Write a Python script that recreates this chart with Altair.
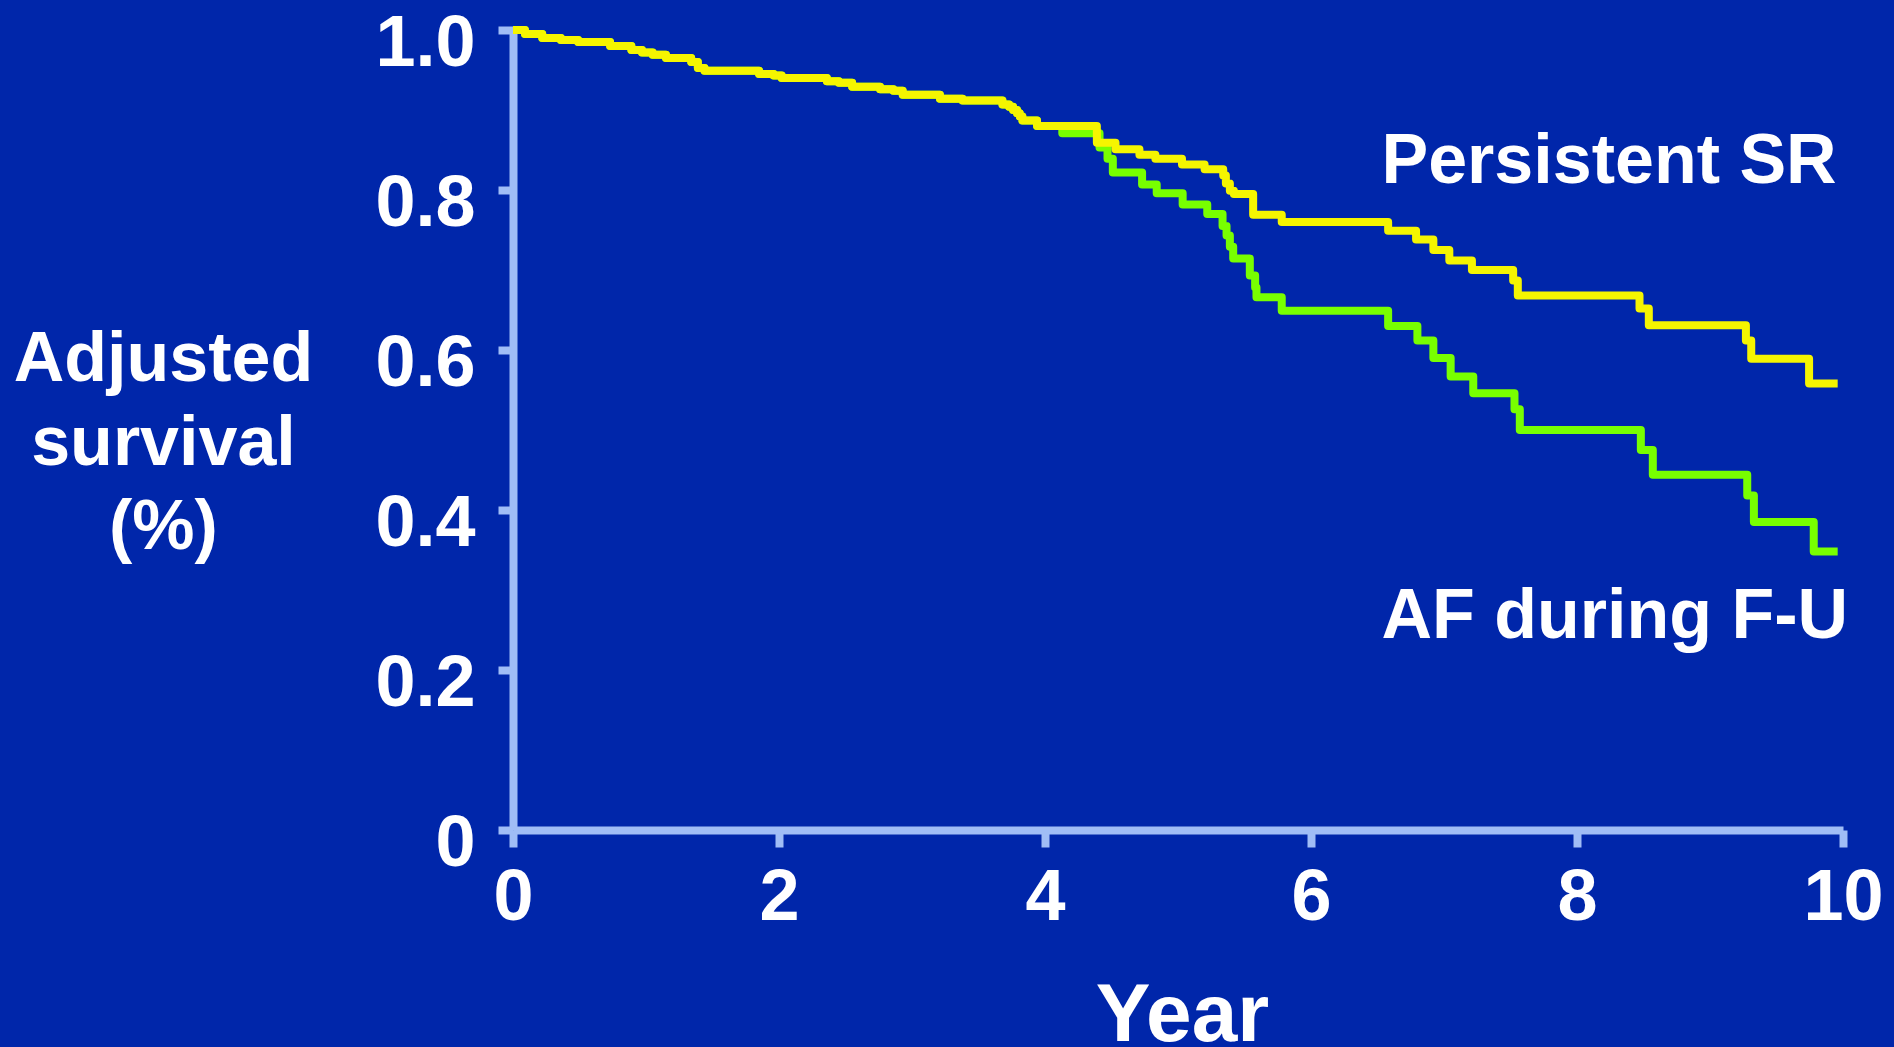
import altair as alt
import pandas as pd

# Persistent SR (yellow) - step-after survival curve
sr_year = [0, 0.09, 0.22, 0.36, 0.49, 0.73, 0.89, 0.97, 1.05, 1.15, 1.34, 1.39, 1.44,
           1.85, 1.96, 2.02, 2.36, 2.45, 2.55, 2.76, 2.86, 2.93, 3.21, 3.38, 3.68, 3.73,
           3.76, 3.79, 3.81, 3.83, 3.94, 4.39, 4.53, 4.71, 4.83, 5.03, 5.20, 5.34, 5.36,
           5.39, 5.42, 5.565, 5.78, 6.58, 6.79, 6.92, 7.04, 7.21, 7.52, 7.555, 8.47, 8.54,
           9.27, 9.31, 9.745, 9.96]
sr_surv = [1.0, 0.995, 0.99, 0.9875, 0.985, 0.98, 0.975, 0.972, 0.969, 0.965, 0.96, 0.9525, 0.949,
           0.945, 0.943, 0.94, 0.936, 0.934, 0.929, 0.926, 0.924, 0.919, 0.914, 0.912, 0.907, 0.904,
           0.900, 0.896, 0.892, 0.887, 0.880, 0.859, 0.851, 0.844, 0.839, 0.832, 0.826, 0.818, 0.808,
           0.799, 0.795, 0.769, 0.760, 0.749, 0.738, 0.725, 0.712, 0.700, 0.687, 0.668, 0.652, 0.631,
           0.612, 0.589, 0.558, 0.558]

# AF during follow-up (green)
af_year = [0, 0.09, 0.22, 0.36, 0.49, 0.73, 0.89, 0.97, 1.05, 1.15, 1.34, 1.39, 1.44,
           1.85, 1.96, 2.02, 2.36, 2.45, 2.55, 2.76, 2.86, 2.93, 3.21, 3.38, 3.68, 3.73,
           3.76, 3.79, 3.81, 3.83, 3.94, 4.13, 4.41, 4.47, 4.51, 4.73, 4.84, 5.035, 5.22,
           5.335, 5.365, 5.39, 5.415, 5.54, 5.58, 5.59, 5.78, 6.58, 6.80, 6.92, 7.05, 7.22,
           7.53, 7.57, 8.48, 8.57, 9.28, 9.33, 9.78, 9.96]
af_surv = [1.0, 0.995, 0.99, 0.9875, 0.985, 0.98, 0.975, 0.972, 0.969, 0.965, 0.96, 0.9525, 0.949,
           0.945, 0.943, 0.94, 0.936, 0.934, 0.929, 0.926, 0.924, 0.919, 0.914, 0.912, 0.907, 0.904,
           0.900, 0.896, 0.892, 0.887, 0.880, 0.871, 0.853, 0.839, 0.822, 0.807, 0.796, 0.782, 0.770,
           0.755, 0.743, 0.729, 0.7145, 0.693, 0.678, 0.666, 0.649, 0.630, 0.612, 0.590, 0.567, 0.546,
           0.526, 0.500, 0.475, 0.444, 0.418, 0.385, 0.348, 0.348]

x_ticks = [0, 2, 4, 6, 8, 10]
y_ticks = [0, 0.2, 0.4, 0.6, 0.8, 1.0]

label_text = ["Persistent SR", "AF during F-U"]
label_year = [6.53, 6.53]
label_surv = [0.809, 0.24]

BG = "#0026AA"
AXIS = "#A0BDF6"
YELLOW = "#F5F500"
GREEN = "#78FF00"
FONT = "Liberation Sans"

sr_df = pd.DataFrame({"year": sr_year, "surv": sr_surv})
af_df = pd.DataFrame({"year": af_year, "surv": af_surv})
lab_df = pd.DataFrame({"text": label_text, "year": label_year, "surv": label_surv})

x_enc = alt.X(
    "year:Q",
    scale=alt.Scale(domain=[0, 10], nice=False, zero=False),
    axis=alt.Axis(
        values=x_ticks, format="d", title="Year",
        titleFontSize=82, titleFont=FONT, titleFontWeight="bold", titleColor="white",
        titleAlign="center", titleBaseline="alphabetic", titleX=669, titleY=210,
        labelFontSize=72, labelFont=FONT, labelFontWeight="bold", labelColor="white",
        labelPadding=15, labelFlush=False, labelOverlap=False,
        tickSize=17, tickWidth=8, tickColor=AXIS,
        domainColor=AXIS, domainWidth=8, grid=False,
    ),
)
y_enc = alt.Y(
    "surv:Q",
    scale=alt.Scale(domain=[0, 1], nice=False),
    axis=alt.Axis(
        values=y_ticks,
        labelExpr="datum.value == 0 ? '0' : format(datum.value, '.1f')",
        title=["Adjusted", "survival", "(%)"],
        titleAngle=0, titleFontSize=70, titleFont=FONT, titleFontWeight="bold",
        titleColor="white", titleAlign="center", titleBaseline="alphabetic",
        titleX=-350, titleY=350, titleLineHeight=84,
        labelFontSize=72, labelFont=FONT, labelFontWeight="bold", labelColor="white",
        labelPadding=23, labelOffset=13, labelOverlap=False, labelFlush=False,
        tickSize=15, tickWidth=8, tickColor=AXIS,
        domainColor=AXIS, domainWidth=8, grid=False,
    ),
)

af_line = alt.Chart(af_df).mark_line(
    interpolate="step-after", color=GREEN, strokeWidth=8, strokeJoin="round"
).encode(x=x_enc, y=y_enc)

sr_line = alt.Chart(sr_df).mark_line(
    interpolate="step-after", color=YELLOW, strokeWidth=8, strokeJoin="round"
).encode(x="year:Q", y="surv:Q")

labels = alt.Chart(lab_df).mark_text(
    align="left", baseline="alphabetic", font=FONT, fontWeight="bold",
    fontSize=70, color="white"
).encode(x="year:Q", y="surv:Q", text="text:N")

chart = alt.layer(af_line, sr_line, labels).properties(
    width=1330, height=800,
    autosize=alt.AutoSizeParams(type="none"),
    padding={"left": 513, "top": 30, "right": 51, "bottom": 217},
    background=BG,
).configure_view(stroke=None)

chart.save("out.html", embed_options={"renderer": "svg", "actions": False})
